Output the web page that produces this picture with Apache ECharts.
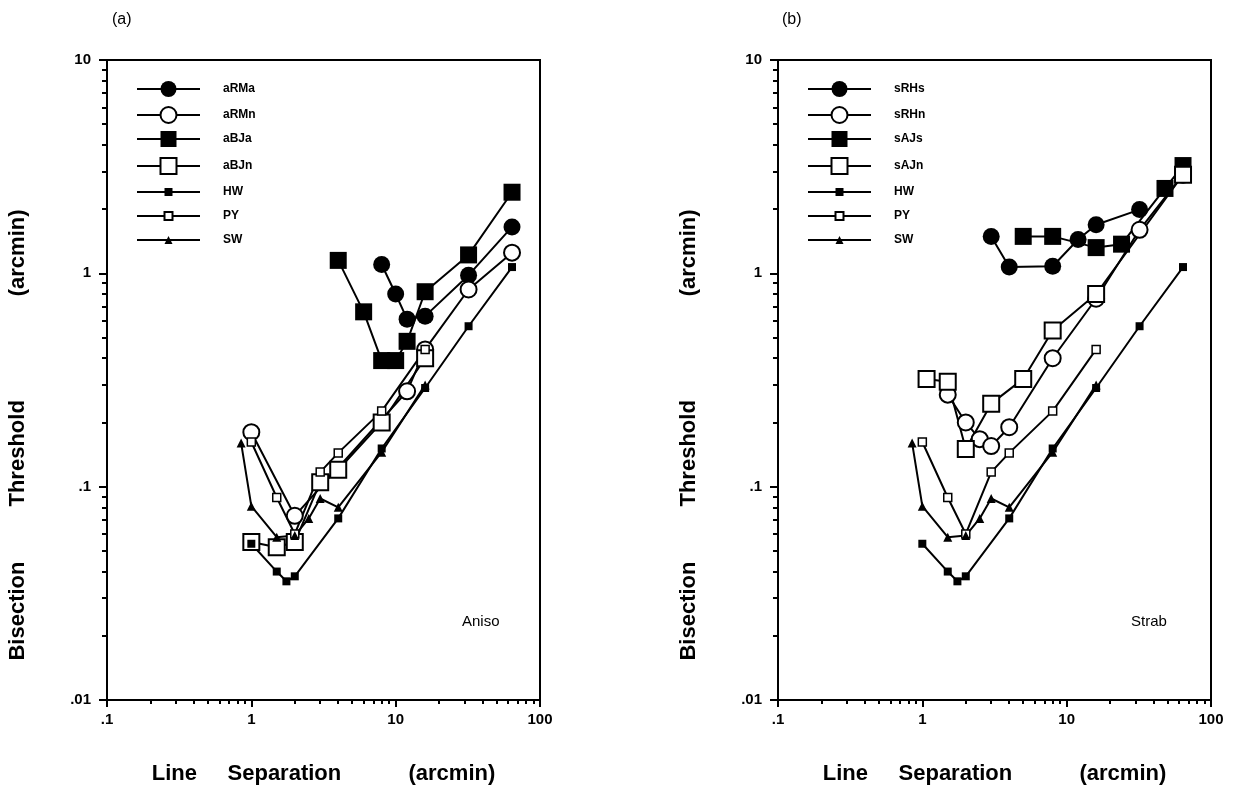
<!DOCTYPE html>
<html><head><meta charset="utf-8">
<script src="https://cdn.jsdelivr.net/npm/echarts@6/dist/echarts.min.js"></script>
<style>html,body{margin:0;padding:0;background:#fff}#c{width:1240px;height:790px}</style>
</head><body><div id="c"></div>
<script>
// ---------- tick labels ----------
const X_TICKS = [0.1, 1, 10, 100];
const X_TICK_LABELS = ['.1', '1', '10', '100'];
const Y_TICKS = [0.01, 0.1, 1, 10];
const Y_TICK_LABELS = ['.01', '.1', '1', '10'];

// ---------- normal observers (both panels) ----------
const HW_x = [1, 1.5, 1.75, 2, 4, 8, 16, 32, 64];
const HW_y = [0.054, 0.040, 0.036, 0.038, 0.071, 0.151, 0.29, 0.565, 1.07];
const PY_x = [1, 1.5, 2, 3, 4, 8, 16];
const PY_y = [0.162, 0.089, 0.06, 0.117, 0.144, 0.226, 0.44];
const SW_x = [0.85, 1, 1.5, 2, 2.5, 3, 4, 8, 16];
const SW_y = [0.16, 0.081, 0.058, 0.059, 0.071, 0.088, 0.08, 0.145, 0.30];

// ---------- panel (a) anisometropes ----------
const aRMa_x = [8, 10, 12, 16, 32, 64];
const aRMa_y = [1.1, 0.8, 0.61, 0.63, 0.98, 1.65];
const aRMn_x = [1, 2, 12, 16, 32, 64];
const aRMn_y = [0.18, 0.073, 0.28, 0.44, 0.84, 1.25];
const aBJa_x = [4, 6, 8, 10, 12, 16, 32, 64];
const aBJa_y = [1.15, 0.66, 0.39, 0.39, 0.48, 0.82, 1.22, 2.4];
const aBJn_x = [1, 1.5, 2, 3, 4, 8, 16];
const aBJn_y = [0.055, 0.052, 0.055, 0.105, 0.12, 0.2, 0.40];

// ---------- panel (b) strabismics ----------
const sRHs_x = [3, 4, 8, 12, 16, 32];
const sRHs_y = [1.49, 1.07, 1.08, 1.44, 1.69, 1.99];
const sRHn_x = [1.5, 2, 2.5, 3, 4, 8, 16, 32, 64];
const sRHn_y = [0.27, 0.2, 0.167, 0.155, 0.19, 0.4, 0.76, 1.6, 2.9];
const sAJs_x = [5, 8, 16, 24, 48, 64];
const sAJs_y = [1.49, 1.49, 1.32, 1.37, 2.5, 3.2];
const sAJn_x = [1.07, 1.5, 2, 3, 5, 8, 16, 64];
const sAJn_y = [0.32, 0.31, 0.15, 0.245, 0.32, 0.54, 0.8, 2.9];

const LEGEND_A = ['aRMa', 'aRMn', 'aBJa', 'aBJn', 'HW', 'PY', 'SW'];
const LEGEND_B = ['sRHs', 'sRHn', 'sAJs', 'sAJn', 'HW', 'PY', 'SW'];

function pairs(xs, ys) { return xs.map((x, i) => [x, ys[i]]); }
function minors(lo, hi) {
  const out = [];
  for (let d = lo; d < hi; d *= 10) for (let k = 2; k <= 9; k++) out.push(+(d * k).toPrecision(3));
  return out;
}

const BLACK = '#000';
const MARK = {
  fcircle: { symbol: 'circle', symbolSize: 17, itemStyle: { color: BLACK, borderColor: BLACK, borderWidth: 0 } },
  ocircle: { symbol: 'circle', symbolSize: 16, itemStyle: { color: '#fff', borderColor: BLACK, borderWidth: 2 } },
  fsquare: { symbol: 'rect', symbolSize: 17, itemStyle: { color: BLACK, borderColor: BLACK, borderWidth: 0 } },
  osquare: { symbol: 'rect', symbolSize: 16, itemStyle: { color: '#fff', borderColor: BLACK, borderWidth: 2 } },
  fsmall:  { symbol: 'rect', symbolSize: 8, itemStyle: { color: BLACK, borderColor: BLACK, borderWidth: 0 } },
  osmall:  { symbol: 'rect', symbolSize: 8, itemStyle: { color: '#fff', borderColor: BLACK, borderWidth: 1.5 } },
  ftri:    { symbol: 'triangle', symbolSize: 9, itemStyle: { color: BLACK, borderColor: BLACK, borderWidth: 0 } }
};

function makeSeries(name, kind, xs, ys, axisIdx) {
  const m = MARK[kind];
  return {
    type: 'line', name: name, xAxisIndex: axisIdx, yAxisIndex: axisIdx,
    data: pairs(xs, ys), symbol: m.symbol, symbolSize: m.symbolSize,
    itemStyle: m.itemStyle, showSymbol: true,
    lineStyle: { color: BLACK, width: 2 }, emphasis: { disabled: true },
    z: 2
  };
}

const series = [
  makeSeries('aRMa', 'fcircle', aRMa_x, aRMa_y, 0),
  makeSeries('aRMn', 'ocircle', aRMn_x, aRMn_y, 0),
  makeSeries('aBJa', 'fsquare', aBJa_x, aBJa_y, 0),
  makeSeries('aBJn', 'osquare', aBJn_x, aBJn_y, 0),
  makeSeries('HW', 'fsmall', HW_x, HW_y, 0),
  makeSeries('PY', 'osmall', PY_x, PY_y, 0),
  makeSeries('SW', 'ftri', SW_x, SW_y, 0),
  makeSeries('sRHs', 'fcircle', sRHs_x, sRHs_y, 2),
  makeSeries('sRHn', 'ocircle', sRHn_x, sRHn_y, 2),
  makeSeries('sAJs', 'fsquare', sAJs_x, sAJs_y, 2),
  makeSeries('sAJn', 'osquare', sAJn_x, sAJn_y, 2),
  makeSeries('HW ', 'fsmall', HW_x, HW_y, 2),
  makeSeries('PY ', 'osmall', PY_x, PY_y, 2),
  makeSeries('SW ', 'ftri', SW_x, SW_y, 2)
];

const PANELS = [
  { left: 107, right: 1240 - 540 },
  { left: 778, right: 1240 - 1211 }
];
const GRID_TOP = 60, GRID_BOTTOM = 790 - 700;

const FONT = 'Liberation Sans, Arial, Helvetica, sans-serif';
const NARROW = 'Liberation Sans Narrow, Liberation Sans, Arial, sans-serif';

const X_TITLE = 'Line     Separation           (arcmin)';
const Y_TITLE = 'Bisection         Threshold                 (arcmin)';

function lab(ticks, labels) {
  return v => {
    const i = ticks.findIndex(t => Math.abs(Math.log10(t) - Math.log10(v)) < 1e-6);
    return i >= 0 ? labels[i] : '';
  };
}

const grid = PANELS.map(p => ({
  left: p.left, right: p.right, top: GRID_TOP, bottom: GRID_BOTTOM,
  show: true, borderColor: BLACK, borderWidth: 2, backgroundColor: 'transparent', containLabel: false
}));

const xAxis = [], yAxis = [];
PANELS.forEach((p, gi) => {
  xAxis.push({
    type: 'log', logBase: 10, gridIndex: gi, min: 0.1, max: 100, position: 'bottom',
    name: X_TITLE, nameLocation: 'middle', nameGap: 63,
    nameTextStyle: { fontFamily: FONT, fontWeight: 'bold', fontSize: 22, color: BLACK },
    axisLine: { show: true, lineStyle: { color: BLACK, width: 2 } },
    axisTick: { show: true, length: 7, lineStyle: { color: BLACK, width: 2 }, customValues: X_TICKS },
    axisLabel: { show: true, customValues: X_TICKS, formatter: lab(X_TICKS, X_TICK_LABELS), margin: 12,
      fontFamily: FONT, fontWeight: 'bold', fontSize: 15, color: BLACK },
    splitLine: { show: false }, minorTick: { show: false }
  });
  xAxis.push({
    type: 'log', logBase: 10, gridIndex: gi, min: 0.1, max: 100, position: 'bottom',
    axisLine: { show: false },
    axisTick: { show: true, length: 4, lineStyle: { color: BLACK, width: 2 }, customValues: minors(0.1, 100) },
    axisLabel: { show: false }, splitLine: { show: false }
  });
  yAxis.push({
    type: 'log', logBase: 10, gridIndex: gi, min: 0.01, max: 10, position: 'left',
    name: Y_TITLE, nameLocation: 'middle', nameGap: 78, nameRotate: 90,
    nameTextStyle: { fontFamily: FONT, fontWeight: 'bold', fontSize: 22, color: BLACK, padding: [0, 110, 0, 0] },
    axisLine: { show: true, lineStyle: { color: BLACK, width: 2 } },
    axisTick: { show: true, length: 8, lineStyle: { color: BLACK, width: 2 }, customValues: Y_TICKS },
    axisLabel: { show: true, customValues: Y_TICKS, formatter: lab(Y_TICKS, Y_TICK_LABELS), margin: 16,
      fontFamily: FONT, fontWeight: 'bold', fontSize: 15, color: BLACK },
    splitLine: { show: false }
  });
  yAxis.push({
    type: 'log', logBase: 10, gridIndex: gi, min: 0.01, max: 10, position: 'left',
    axisLine: { show: false },
    axisTick: { show: true, length: 5, lineStyle: { color: BLACK, width: 2 }, customValues: minors(0.01, 10) },
    axisLabel: { show: false }, splitLine: { show: false }
  });
});

// one legend per entry so rows can be placed exactly
const legend = [];
const ROW_Y = [91, 116, 141, 167, 191, 215, 239];
[[LEGEND_A, 136, ''], [LEGEND_B, 807, ' ']].forEach(([names, lx, suffix]) => {
  names.forEach((nm, i) => {
    const big = i < 4;
    const ih = big ? 20 : 10;
    const seriesName = (i >= 4 ? nm + suffix : nm);
    legend.push({
      data: [{ name: seriesName }], left: lx, top: ROW_Y[i] - ih / 2, padding: 0,
      itemWidth: 63, itemHeight: ih, selectedMode: false, orient: 'vertical',
      formatter: n => n.trim(),
      textStyle: { fontFamily: NARROW, fontWeight: 'bold', fontSize: 12, color: BLACK, padding: [0, 0, 0, 18] }
    });
  });
});

const option = {
  animation: false,
  backgroundColor: '#fff',
  grid, xAxis, yAxis, legend, series,
  graphic: [
    { type: 'text', left: 112, top: 12, style: { text: '(a)', font: '16px ' + FONT, fill: BLACK } },
    { type: 'text', left: 782, top: 12, style: { text: '(b)', font: '16px ' + FONT, fill: BLACK } },
    { type: 'text', left: 462, top: 614, style: { text: 'Aniso', font: '15px ' + FONT, fill: BLACK } },
    { type: 'text', left: 1131, top: 614, style: { text: 'Strab', font: '15px ' + FONT, fill: BLACK } }
  ]
};

const chart = echarts.init(document.getElementById('c'), null, { renderer: 'canvas' });
chart.setOption(option);
</script>
</body></html>
